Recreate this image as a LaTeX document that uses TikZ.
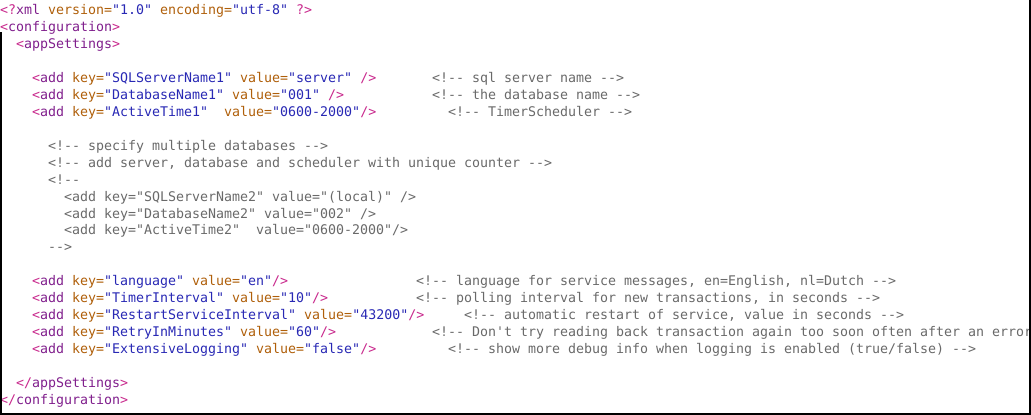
\documentclass[tikz,border=0pt]{standalone}
\usepackage{fontspec}
\setmonofont{DejaVu Sans Mono}
\usepackage{tikz}
\usepackage{xcolor}

\definecolor{brk}{RGB}{200,40,140}
\definecolor{tagc}{RGB}{128,30,140}
\definecolor{attrc}{RGB}{175,95,10}
\definecolor{valc}{RGB}{40,40,180}
\definecolor{cmtc}{RGB}{105,105,105}

\newcommand{\xb}[1]{\textcolor{brk}{#1}}
\newcommand{\xt}[1]{\textcolor{tagc}{#1}}
\newcommand{\xa}[1]{\textcolor{attrc}{#1}}
\newcommand{\xv}[1]{\textcolor{valc}{#1}}

\begin{document}
\begin{tikzpicture}[x=8bp, y=-16.96bp,
  every node/.style={anchor=base west, inner sep=0pt, font=\ttfamily\fontsize{13.29bp}{17bp}\selectfont},
  cmt/.style={text=cmtc}]
  \useasboundingbox (0bp,0bp) rectangle (1031bp,-415bp);
  \begin{scope}
  \clip (0bp,0bp) rectangle (1029bp,-415bp);
  \begin{scope}[yshift=-14.5bp]
  \node (decl) at (0,0) {\xb{<?}\xt{xml} \xa{version=}\xv{"1.0"} \xa{encoding=}\xv{"utf-8"} \xb{?>}};
  \node (cfg) at (0,1) {\xb{<}\xt{configuration}\xb{>}};
  \node (app) at (2,2) {\xb{<}\xt{appSettings}\xb{>}};

  \node (srv1) at (4,4) {\xb{<}\xt{add} \xa{key=}\xv{"SQLServerName1"} \xa{value=}\xv{"server"} \xb{/>}};
  \node (db1) at (4,5) {\xb{<}\xt{add} \xa{key=}\xv{"DatabaseName1"} \xa{value=}\xv{"001"} \xb{/>}};
  \node (act1) at (4,6) {\xb{<}\xt{add} \xa{key=}\xv{"ActiveTime1"}\ \ \xa{value=}\xv{"0600-2000"}\xb{/>}};
  \node[cmt] (srv1c) at (54,4) {<!-- sql server name -->};
  \node[cmt] (db1c) at (54,5) {<!-- the database name -->};
  \node[cmt] (act1c) at (56,6) {<!-- TimerScheduler -->};

  % commented-out block
  \node[cmt] (multi) at (6,8) {<!-- specify multiple databases -->};
  \node[cmt] (uniq) at (6,9) {<!-- add server, database and scheduler with unique counter -->};
  \node[cmt] (open) at (6,10) {<!--};
  \node[cmt] (srv2) at (8,11) {<add key="SQLServerName2" value="(local)" />};
  \node[cmt] (db2) at (8,12) {<add key="DatabaseName2" value="002" />};
  \node[cmt] (act2) at (8,13) {<add key="ActiveTime2"\ \ value="0600-2000"/>};
  \node[cmt] (close) at (6,14) {-->};

  \node (lang) at (4,16) {\xb{<}\xt{add} \xa{key=}\xv{"language"} \xa{value=}\xv{"en"}\xb{/>}};
  \node (timer) at (4,17) {\xb{<}\xt{add} \xa{key=}\xv{"TimerInterval"} \xa{value=}\xv{"10"}\xb{/>}};
  \node (restart) at (4,18) {\xb{<}\xt{add} \xa{key=}\xv{"RestartServiceInterval"} \xa{value=}\xv{"43200"}\xb{/>}};
  \node (retry) at (4,19) {\xb{<}\xt{add} \xa{key=}\xv{"RetryInMinutes"} \xa{value=}\xv{"60"}\xb{/>}};
  \node (logging) at (4,20) {\xb{<}\xt{add} \xa{key=}\xv{"ExtensiveLogging"} \xa{value=}\xv{"false"}\xb{/>}};
  \node[cmt] (langc) at (52,16) {<!-- language for service messages, en=English, nl=Dutch -->};
  \node[cmt] (timerc) at (52,17) {<!-- polling interval for new transactions, in seconds -->};
  \node[cmt] (restartc) at (58,18) {<!-- automatic restart of service, value in seconds -->};
  \node[cmt] (retryc) at (54,19) {<!-- Don't try reading back transaction again too soon often after an error};
  \node[cmt] (loggingc) at (56,20) {<!-- show more debug info when logging is enabled (true/false) -->};

  \node (append) at (2,22) {\xb{</}\xt{appSettings}\xb{>}};
  \node (cfgend) at (0,23) {\xb{</}\xt{configuration}\xb{>}};
  \end{scope}
  \end{scope}

  % frame
  \draw[line width=1.5bp] (0.75bp,-32bp) -- (0.75bp,-413.75bp) -- (1029.75bp,-413.75bp) -- (1029.75bp,0bp);
\end{tikzpicture}
\end{document}
